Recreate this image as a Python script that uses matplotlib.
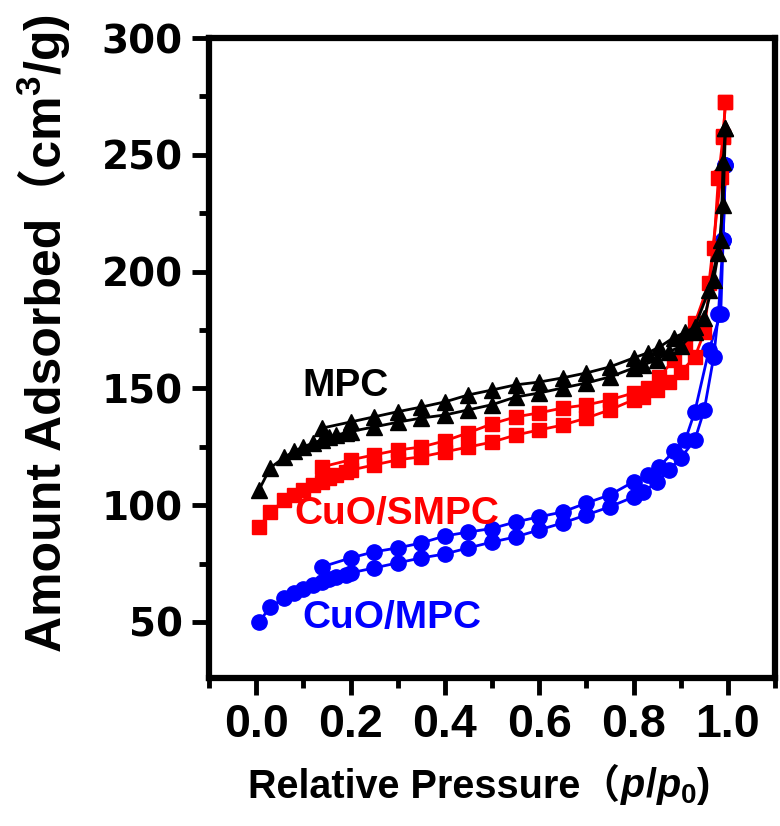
import matplotlib
matplotlib.use("Agg")
import matplotlib.pyplot as plt
from matplotlib.ticker import MultipleLocator

plt.rcParams["mathtext.fontset"] = "custom"
plt.rcParams["mathtext.it"] = "Liberation Sans:italic:bold"
plt.rcParams["mathtext.rm"] = "Liberation Sans:bold"
plt.rcParams["mathtext.bf"] = "Liberation Sans:bold"

# relative pressure points, adsorption (up) and desorption (down) branches
P_ADS = [0.006, 0.03, 0.06, 0.08, 0.10, 0.12, 0.14, 0.155, 0.17, 0.19, 0.20,
         0.25, 0.30, 0.35, 0.40, 0.45, 0.50, 0.55, 0.60, 0.65, 0.70, 0.75,
         0.80, 0.82, 0.85, 0.875, 0.90, 0.93, 0.95, 0.97, 0.98, 0.99, 0.995]
P_DES = [0.995, 0.99, 0.985, 0.96, 0.93, 0.91, 0.885, 0.855, 0.83, 0.80,
         0.75, 0.70, 0.65, 0.60, 0.55, 0.50, 0.45, 0.40, 0.35, 0.30, 0.25,
         0.20, 0.14]

MPC_ADS = [106.5, 116, 120.5, 123, 125, 126.5, 128, 129, 130, 131, 131.5,
           133.5, 135.5, 137.3, 138.6, 140.8, 143, 146.3, 148, 150.2, 152.3,
           154.9, 158.7, 160, 162.2, 165.6, 168, 174, 180, 196.4, 208, 228.5,
           261.5]
MPC_DES = [261.5, 247, 213.5, 192, 176.3, 174, 171.7, 167.7, 165.2, 163,
           159.2, 156.6, 154.5, 152.7, 151.5, 149.3, 147.2, 144.2, 142, 140,
           137.8, 135.6, 133]

SMPC_ADS = [90.7, 97, 102.2, 104.4, 106.5, 108.6, 110, 111.6, 113, 114.2, 115,
            117.2, 119.4, 120.7, 122.8, 124.9, 127, 130, 132.2, 134.3, 137.3,
            140.8, 145.1, 146.3, 149.3, 152.7, 157, 163.4, 174, 210, 240, 258,
            272.6]
SMPC_DES = [272.6, 257.6, 240.5, 195, 178, 169.5, 162.2, 154.9, 150.2, 148,
            145.1, 142.9, 141.6, 139.5, 137.8, 134.8, 131, 127.5, 124.9, 123.6,
            121.5, 119.4, 116.4]

CUO_ADS = [50, 56.4, 60.3, 62.4, 64.1, 65.8, 67.1, 68.4, 69.3, 70.1, 71,
           73.1, 75.3, 77.4, 79.1, 81.7, 84.2, 86.4, 89.4, 92.4, 95.8, 99.3,
           103.5, 105.6, 110, 115.1, 120.2, 127.9, 140.8, 163.4, 182, 213.5,
           245.6]
CUO_DES = [245.6, 213.5, 182, 166.4, 140, 128, 123, 116.5, 113, 110, 104.4,
           100.9, 97.1, 95, 92.8, 90, 88.5, 86.8, 83.8, 81.7, 80, 77.4, 73.6]

SERIES = [
    ("CuO/MPC", CUO_ADS, CUO_DES, "#0000ff", "o", 11),
    ("CuO/SMPC", SMPC_ADS, SMPC_DES, "#ff0000", "s", 10),
    ("MPC", MPC_ADS, MPC_DES, "black", "^", 12),
]

LABEL_POS = {
    "MPC": (0.19, 151),
    "CuO/SMPC": (0.298, 96),
    "CuO/MPC": (0.288, 51.5),
}

FONT = ["Liberation Sans", "Noto Sans CJK SC", "DejaVu Sans"]
W, H = 780, 826

fig = plt.figure(figsize=(W / 100, H / 100), dpi=100)
ax = fig.add_axes([209 / W, 1 - 678 / H, 566 / W, 640 / H])

for name, ads, des, color, marker, ms in SERIES:
    for ys, ps in ((ads, P_ADS), (des, P_DES)):
        ax.plot(ps, ys, color=color, marker=marker, markersize=ms,
                linewidth=2.0, clip_on=False)
    x, y = LABEL_POS[name]
    ax.text(x, y, name, color=color, fontsize=28, fontweight="bold",
            family=FONT, ha="center", va="center")

ax.set_xlim(-0.1, 1.1)
ax.set_ylim(26, 300)
ax.xaxis.set_minor_locator(MultipleLocator(0.1))
ax.yaxis.set_minor_locator(MultipleLocator(25))
ax.set_xticks([0.0, 0.2, 0.4, 0.6, 0.8, 1.0])
ax.set_yticks([50, 100, 150, 200, 250, 300])

for sp in ax.spines.values():
    sp.set_linewidth(4.5)

ax.tick_params(which="major", direction="out", length=12, width=3.5,
               top=False, right=False)
ax.tick_params(which="minor", direction="out", length=7.5, width=3.5,
               top=False, right=False)
ax.tick_params(axis="x", which="major", pad=6)
ax.tick_params(axis="y", which="major", pad=7)

for lab in ax.get_xticklabels():
    lab.set_fontfamily(FONT)
    lab.set_fontweight("bold")
    lab.set_fontsize(33.5)
for lab in ax.get_yticklabels():
    lab.set_fontfamily("DejaVu Sans")
    lab.set_fontweight("bold")
    lab.set_fontsize(28)

# x label: plain part (with fullwidth bracket) then italic p/p0
xl = fig.text(248 / W, 1 - 797 / H, "Relative Pressure（",
              fontsize=28.5, fontweight="bold", family=FONT,
              ha="left", va="baseline")
# y label: plain part then raised superscript
yl = fig.text(61 / W, 1 - 652 / H, "Amount Adsorbed（cm",
              fontsize=36, fontweight="bold", family=FONT, rotation=90,
              rotation_mode="anchor", ha="left", va="baseline")
fig.canvas.draw()
bx = xl.get_window_extent()
fig.text(bx.x1 / W, 1 - 797 / H, r"$\mathit{p/p_0}$)",
         fontsize=28.5, fontweight="bold", family="Liberation Sans",
         ha="left", va="baseline")
by = yl.get_window_extent()
fig.text(61 / W, by.y1 / H, r"$^{3}$/g)",
         fontsize=36, fontweight="bold", family="Liberation Sans",
         rotation=90, rotation_mode="anchor", ha="left", va="baseline")

fig.savefig("out.png", dpi=100)
